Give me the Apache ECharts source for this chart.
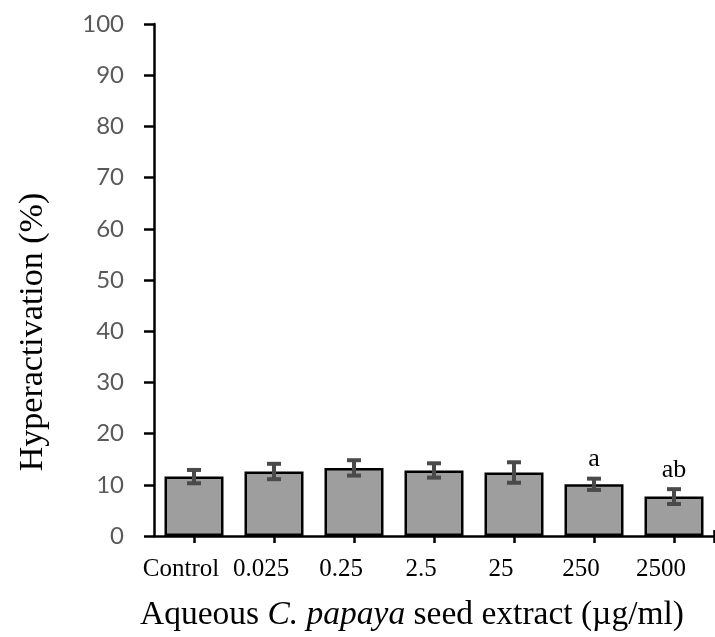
<!DOCTYPE html>
<html>
<head>
<meta charset="utf-8">
<script src="https://cdn.jsdelivr.net/npm/echarts@6/dist/echarts.min.js"></script>
<style>html,body{margin:0;padding:0;background:#fff}#c{width:715px;height:637px}</style>
</head>
<body>
<div id="c"></div>
<script>
const categories = ['Control', '0.025', '0.25', '2.5', '25', '250', '2500'];
const means = [11.6, 12.6, 13.3, 12.8, 12.4, 10.1, 7.7];
const errors = [1.3, 1.5, 1.5, 1.4, 2.0, 1.1, 1.45];
const annotations = ['', '', '', '', '', 'a', 'ab'];
const yMin = 0, yMax = 100, yStep = 10;

const serif = 'Liberation Serif';
const idx = categories.map((_, i) => i);
const tickVals = idx.concat([categories.length - 0.5]);

const chart = echarts.init(document.getElementById('c'), null, {renderer: 'canvas'});
chart.setOption({
  animation: false,
  backgroundColor: '#fff',
  grid: {left: 154, right: 1, top: 24, bottom: 99, containLabel: false},
  xAxis: [{
    type: 'value', min: -0.5, max: categories.length - 0.5,
    splitLine: {show: false},
    axisLine: {show: true, onZero: false, lineStyle: {color: '#000', width: 2.5}},
    axisTick: {show: true, inside: false, length: 7, customValues: tickVals, lineStyle: {color: '#000', width: 2.5}},
    axisLabel: {customValues: idx, formatter: v => categories[Math.round(v)], fontFamily: serif, fontSize: 25, color: '#000', margin: 21, padding: [0, 26, 0, 0]},
    name: 'Aqueous {i|C. papaya} seed extract (µg/ml)',
    nameLocation: 'middle', nameGap: 62,
    nameTextStyle: {fontFamily: serif, fontSize: 33.5, color: '#000', padding: [0, 44, 0, 0],
      rich: {i: {fontFamily: serif, fontSize: 33.5, fontStyle: 'italic', color: '#000'}}}
  }, {
    type: 'value', min: -0.5, max: categories.length - 0.5, position: 'bottom',
    splitLine: {show: false},
    axisLine: {show: false, onZero: false},
    axisTick: {show: true, inside: true, length: 6, customValues: tickVals, lineStyle: {color: '#000', width: 2.5}},
    axisLabel: {show: false}
  }],
  yAxis: {
    type: 'value', min: yMin, max: yMax, interval: yStep,
    splitLine: {show: false},
    axisLine: {show: true, onZero: false, lineStyle: {color: '#000', width: 2.5}},
    axisTick: {show: true, length: 10, lineStyle: {color: '#000', width: 2.5}},
    axisLabel: {fontFamily: 'Lato', fontSize: 24, color: '#595959', margin: 30},
    name: 'Hyperactivation (%)',
    nameLocation: 'middle', nameGap: 104,
    nameTextStyle: {fontFamily: serif, fontSize: 34, color: '#000', padding: [0, 104, 0, 0]}
  },
  series: [{
    type: 'bar',
    xAxisIndex: 0,
    barWidth: 59,
    data: means.map((m, i) => [i, m]),
    itemStyle: {color: '#9e9e9e', borderColor: '#000', borderWidth: 2.5},
    z: 2
  }, {
    type: 'custom',
    xAxisIndex: 0,
    data: means.map((m, i) => [i, m, errors[i]]),
    renderItem: function (params, api) {
      const x = api.value(0), m = api.value(1), e = api.value(2);
      const t = api.coord([x, m + e]);
      const b = api.coord([x, m - e]);
      const hw = 7;
      const st = {stroke: '#4a4a4a', lineWidth: 4};
      return {type: 'group', children: [
        {type: 'line', shape: {x1: t[0], y1: t[1], x2: b[0], y2: b[1]}, style: st},
        {type: 'line', shape: {x1: t[0] - hw, y1: t[1], x2: t[0] + hw, y2: t[1]}, style: st},
        {type: 'line', shape: {x1: b[0] - hw, y1: b[1], x2: b[0] + hw, y2: b[1]}, style: st}
      ]};
    },
    z: 3
  }, {
    type: 'custom',
    xAxisIndex: 0,
    data: means.map((m, i) => [i, m + errors[i]]),
    renderItem: function (params, api) {
      const p = api.coord([api.value(0), api.value(1)]);
      return {type: 'text', x: p[0], y: p[1] - 6, style: {
        text: annotations[params.dataIndex], fontFamily: serif, fontSize: 26, fill: '#000',
        align: 'center', verticalAlign: 'bottom', textAlign: 'center', textVerticalAlign: 'bottom'
      }};
    },
    z: 4
  }]
});
</script>
</body>
</html>
